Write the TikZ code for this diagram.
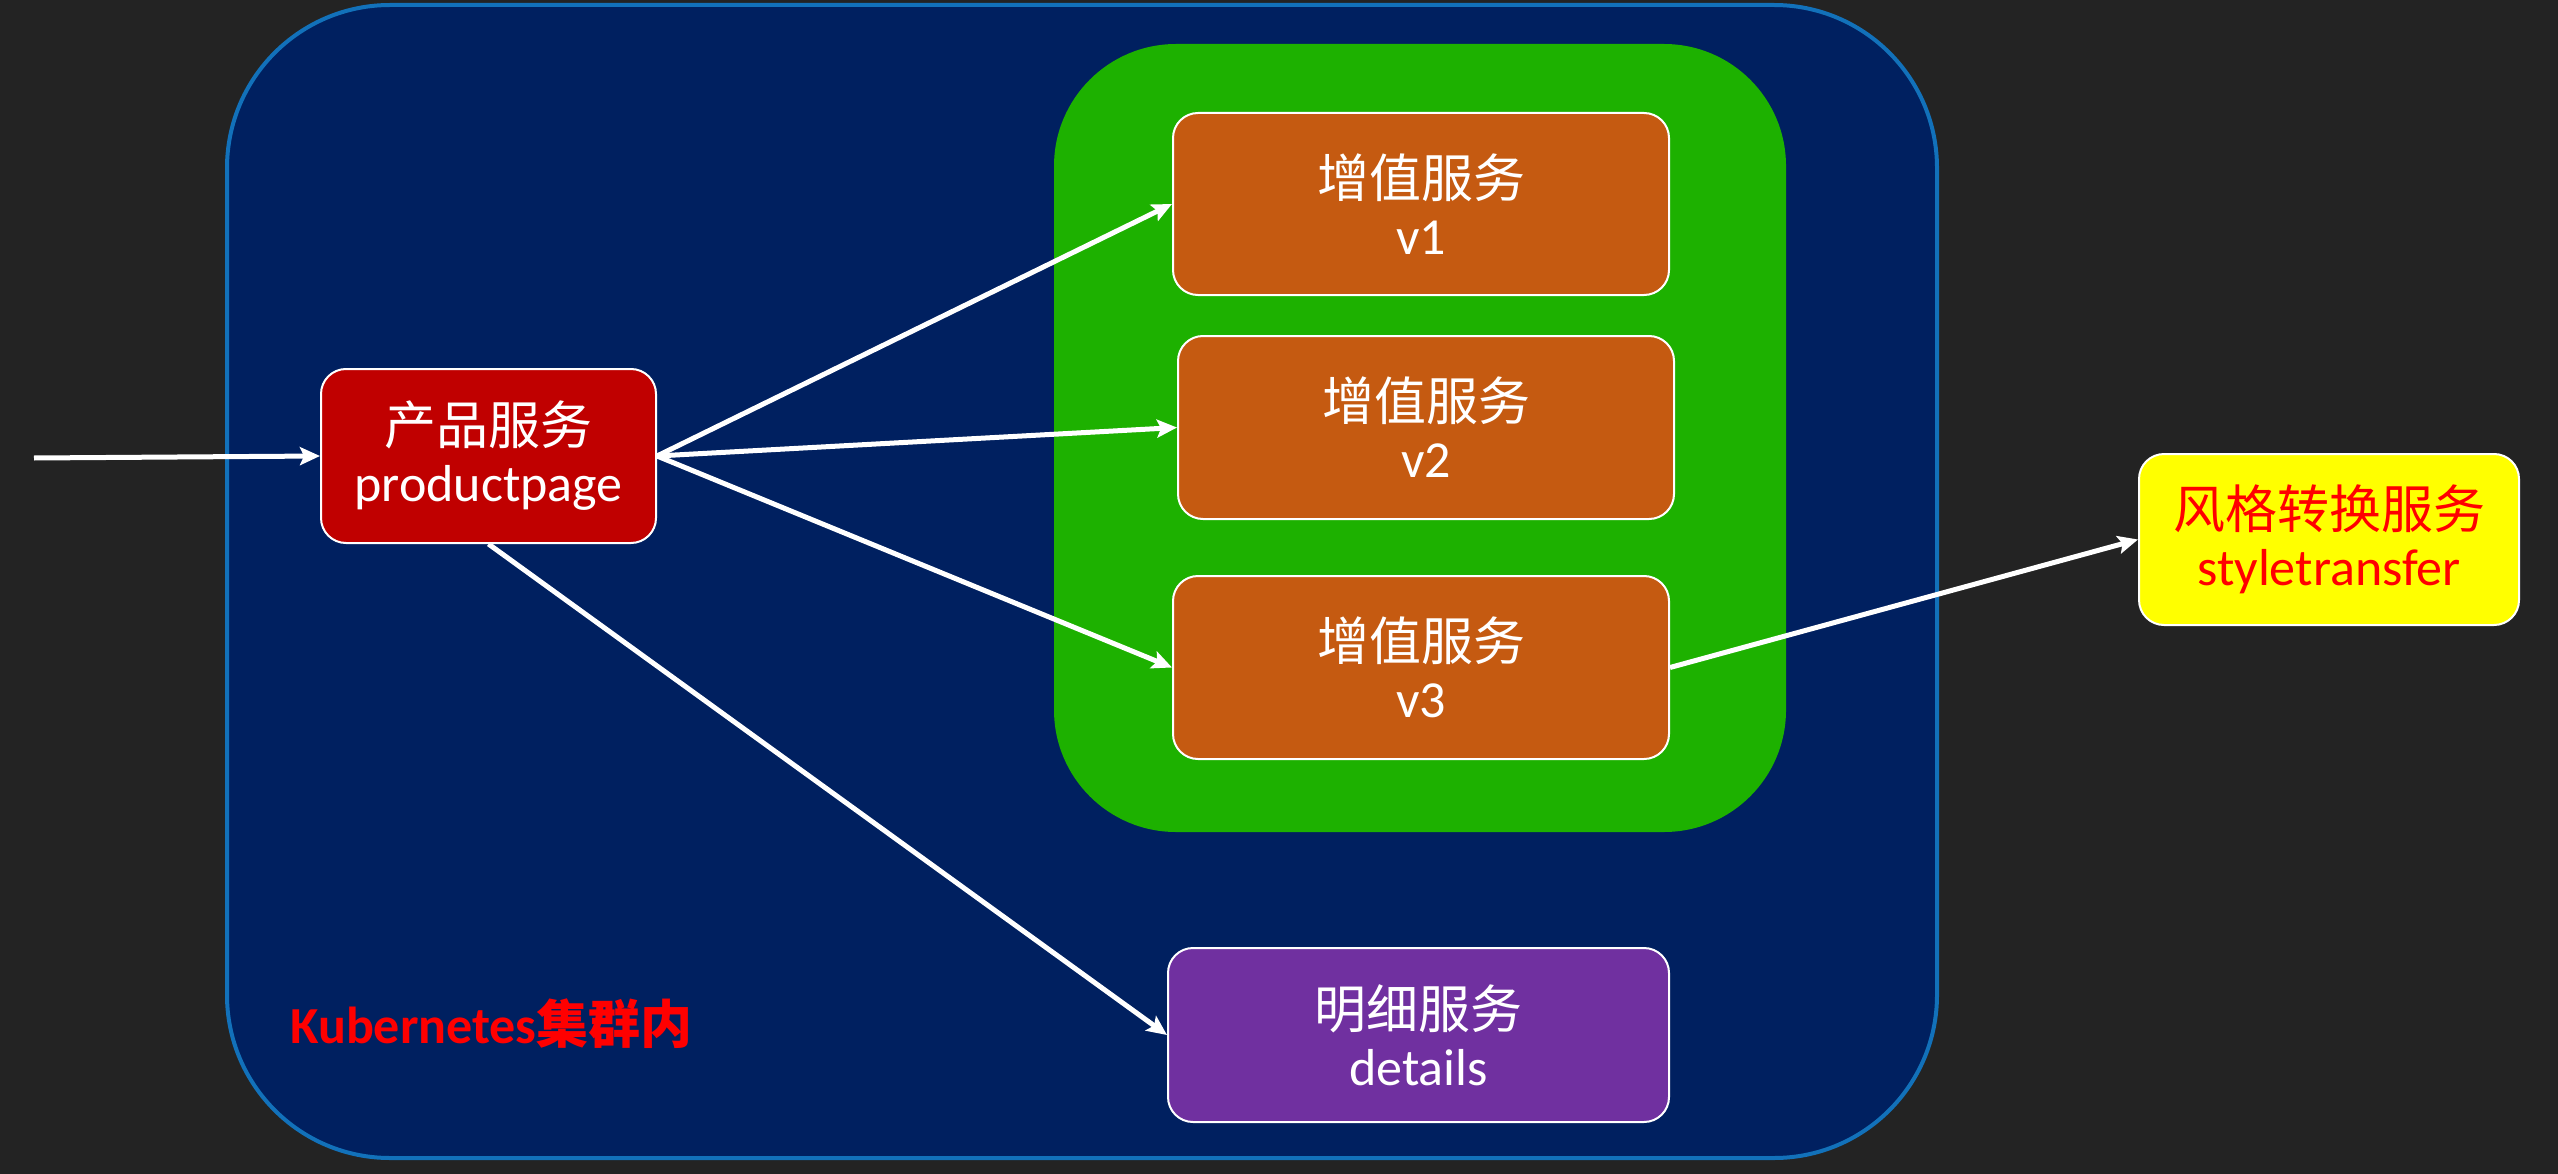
\documentclass[tikz,border=0pt]{standalone}
\usepackage{fontspec}
\setmainfont{Carlito}
\newfontfamily\cjk{Noto Sans CJK SC}
\usetikzlibrary{arrows.meta}
\definecolor{bg}{HTML}{232323}
\definecolor{navy}{HTML}{002060}
\definecolor{blueline}{HTML}{1271BA}
\definecolor{grn}{HTML}{1DB100}
\definecolor{orng}{HTML}{C55A11}
\definecolor{redbox}{HTML}{C00000}
\definecolor{purp}{HTML}{7030A0}
\definecolor{yel}{HTML}{FFFF00}
\tikzset{
  svc/.style={rounded corners=25pt, draw=white, line width=2pt, align=center,
    text=white, inner sep=0pt, font=\fontsize{52}{57}\selectfont},
  link/.style={draw=white, line width=5pt, -{Stealth[length=20pt,width=18pt,inset=4pt]}}
}
\begin{document}
\begin{tikzpicture}[x=1pt,y=-1pt]
\path[fill=bg, use as bounding box] (0,0) rectangle (2558,1174);
% cluster
\path[fill=navy, draw=blueline, line width=4pt, rounded corners=163pt] (227,5) rectangle (1937,1158);
% green group
\path[fill=grn, rounded corners=122pt] (1054,44) rectangle (1786,832);
% nodes
\node[svc, fill=redbox, minimum width=335pt, minimum height=174pt] (pp) at (488.5,456) {{\cjk 产品服务}\\productpage};
\node[svc, fill=orng, minimum width=496pt, minimum height=182pt] (v1) at (1421,204) {{\cjk 增值服务}\\v1};
\node[svc, fill=orng, minimum width=496pt, minimum height=183pt] (v2) at (1426,427.5) {{\cjk 增值服务}\\v2};
\node[svc, fill=orng, minimum width=496pt, minimum height=183pt] (v3) at (1421,667.5) {{\cjk 增值服务}\\v3};
\node[svc, fill=purp, minimum width=501pt, minimum height=174pt] (det) at (1418.5,1035) {{\cjk 明细服务}\\details};
\node[svc, fill=yel, text=red, minimum width=380pt, minimum height=171pt] (st) at (2329,539.5) {{\cjk 风格转换服务}\\styletransfer};
\node[anchor=west, inner sep=0pt, text=red, font=\fontsize{52}{60}\selectfont\bfseries] (k8s) at (290,1024) {Kubernetes{\cjk\bfseries 集群内}};
% connectors
\coordinate (in) at (34,458);
\draw[link] (in) -- (pp.west);
\draw[link] (pp.east) -- (v1.west);
\draw[link] (pp.east) -- (v2.west);
\draw[link] (pp.east) -- (v3.west);
\draw[link] (pp.south) -- (det.west);
\draw[link] (v3.east) -- (st.west);
\end{tikzpicture}
\end{document}
